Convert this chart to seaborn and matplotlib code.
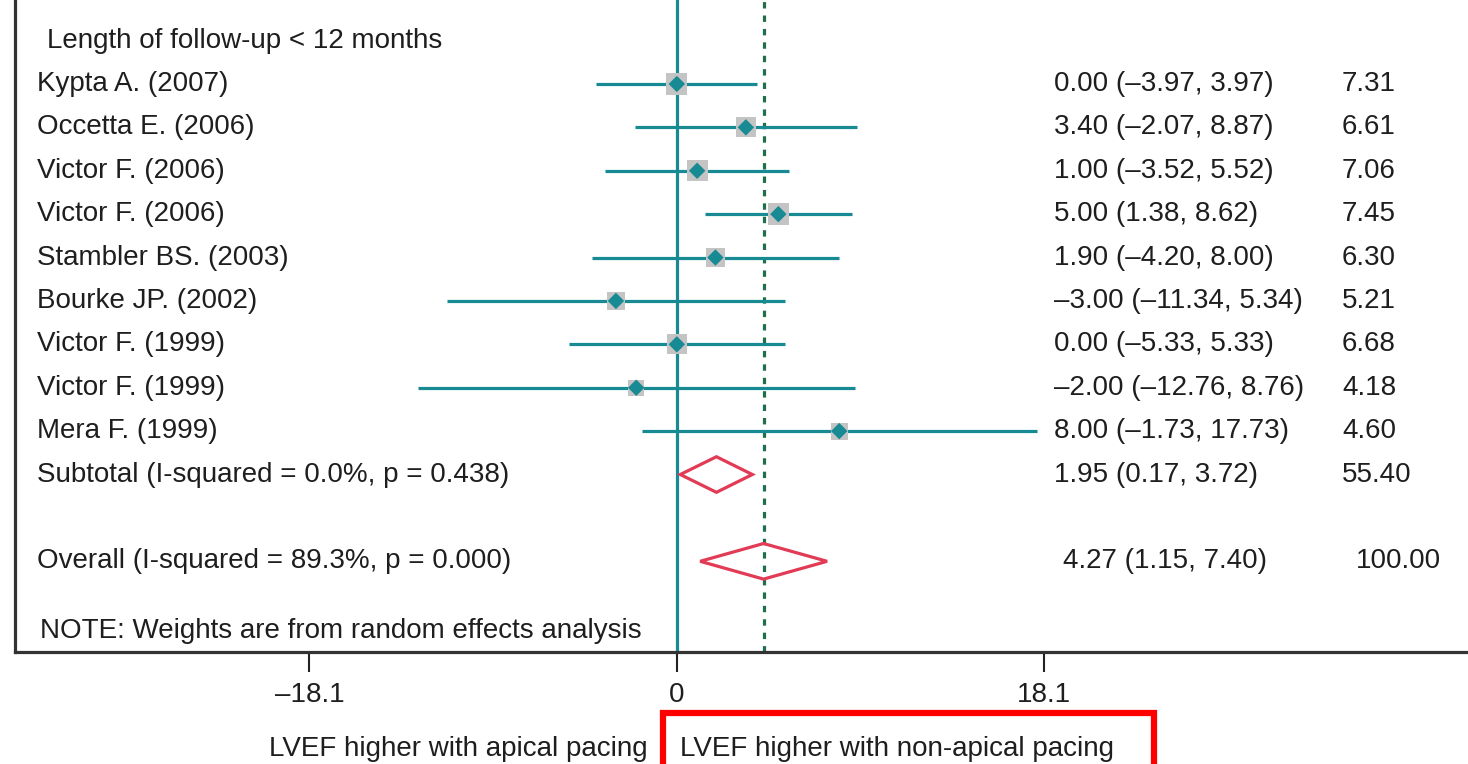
import matplotlib
matplotlib.use("Agg")
import matplotlib.pyplot as plt
import seaborn as sns
import pandas as pd
from matplotlib.patches import Polygon, Rectangle

# study rows
studies = ['Kypta A. (2007)', 'Occetta E. (2006)', 'Victor F. (2006)', 'Victor F. (2006)',
           'Stambler BS. (2003)', 'Bourke JP. (2002)', 'Victor F. (1999)', 'Victor F. (1999)',
           'Mera F. (1999)']
es = [0.00, 3.40, 1.00, 5.00, 1.90, -3.00, 0.00, -2.00, 8.00]
lower = [-3.97, -2.07, -3.52, 1.38, -4.20, -11.34, -5.33, -12.76, -1.73]
upper = [3.97, 8.87, 5.52, 8.62, 8.00, 5.34, 5.33, 8.76, 17.73]
weights = [7.31, 6.61, 7.06, 7.45, 6.30, 5.21, 6.68, 4.18, 4.60]

# pooled estimates
pooled_labels = ['Subtotal (I-squared = 0.0%, p = 0.438)', 'Overall (I-squared = 89.3%, p = 0.000)']
pooled_es = [1.95, 4.27]
pooled_lower = [0.17, 1.15]
pooled_upper = [3.72, 7.40]
pooled_weights = ['55.40', '100.00']

ticks = [-18.1, 0, 18.1]
tick_labels = ['–18.1', '0', '18.1']

teal = '#178a93'
red = '#e23b55'
dotgreen = '#1f6f4a'
ink = '#1e1e1e'

sns.set_style('white')
plt.rcParams['font.family'] = ['Liberation Sans', 'DejaVu Sans']
FS = 20

fig = plt.figure(figsize=(14.68, 7.64), dpi=100)
ax = fig.add_axes([15 / 1468, 112 / 764, 1453 / 1468, 652 / 764])

df = pd.DataFrame({'study': studies, 'es': es, 'lo': lower, 'hi': upper, 'w': weights})
df['row'] = range(1, len(df) + 1)

# CI lines
ax.hlines(df['row'], df['lo'], df['hi'], color=teal, lw=2.3, zorder=2)
# weight boxes
sns.scatterplot(data=df, x='es', y='row', marker='s', s=df['w'] * 32, color='#c4c4c4',
                edgecolor='none', ax=ax, zorder=3, legend=False)
# point estimates
sns.scatterplot(data=df, x='es', y='row', marker='D', s=70, color=teal,
                edgecolor='none', ax=ax, zorder=4, legend=False)

# zero line and overall dotted line
ax.axvline(0, color=teal, lw=2.3, zorder=1)
ax.axvline(pooled_es[1], color=dotgreen, lw=2.3, linestyle=(0, (2.0, 2.2)), zorder=1)

# pooled diamonds
pooled_rows = [10, 12]
for r, m, lo, hi in zip(pooled_rows, pooled_es, pooled_lower, pooled_upper):
    ax.add_patch(Polygon([(lo, r), (m, r - 0.41), (hi, r), (m, r + 0.41)], closed=True,
                         fill=False, edgecolor=red, lw=2.3, zorder=5))

# text columns
ax.text(-31.0, 0, 'Length of follow-up < 12 months', fontsize=FS, va='center', ha='left', color=ink)
for r, name in zip(df['row'], studies):
    ax.text(-31.5, r, name, fontsize=FS, va='center', ha='left', color=ink)
for r, m, lo, hi, w in zip(df['row'], es, lower, upper, weights):
    txt = f'{m:.2f} ({lo:.2f}, {hi:.2f})'.replace('-', '–')
    ax.text(18.57, r, txt, fontsize=FS, va='center', ha='left', color=ink)
    ax.text(32.76, r, f'{w:.2f}', fontsize=FS, va='center', ha='left', color=ink)
x_es = [18.57, 19.0]
x_w = [32.76, 33.45]
for r, lab, m, lo, hi, w, xe, xw in zip(pooled_rows, pooled_labels, pooled_es, pooled_lower,
                                         pooled_upper, pooled_weights, x_es, x_w):
    ax.text(-31.5, r, lab, fontsize=FS, va='center', ha='left', color=ink)
    ax.text(xe, r, f'{m:.2f} ({lo:.2f}, {hi:.2f})', fontsize=FS, va='center', ha='left', color=ink)
    ax.text(xw, r, w, fontsize=FS, va='center', ha='left', color=ink)
ax.text(-31.35, 13.6, 'NOTE: Weights are from random effects analysis', fontsize=FS,
        va='center', ha='left', color=ink)

# axes
ax.set_xlim(-32.6, 38.97)
ax.set_ylim(14.09, -0.935)
ax.set_xticks(ticks)
ax.set_xticklabels(tick_labels, fontsize=FS, color=ink)
ax.set_yticks([])
ax.set_xlabel('')
ax.set_ylabel('')
ax.tick_params(axis='x', direction='out', length=14.5, width=1.5, color='#222222', pad=7,
               bottom=True)
for side in ['top', 'right']:
    ax.spines[side].set_visible(False)
for side in ['left', 'bottom']:
    ax.spines[side].set_color('#333333')
    ax.spines[side].set_linewidth(2.3)

# direction labels
xt = ax.get_xaxis_transform()
ax.text(-1.43, -0.149, 'LVEF higher with apical pacing', fontsize=FS, ha='right', va='center',
        transform=xt, clip_on=False, color=ink)
ax.text(0.15, -0.149, 'LVEF higher with non-apical pacing', fontsize=FS, ha='left', va='center',
        transform=xt, clip_on=False, color=ink)

# red highlight box
fig.patches.append(Rectangle((663 / 1468, -0.05), 491 / 1468, 0.05 + (764 - 713) / 764,
                             transform=fig.transFigure, fill=False, edgecolor='#ff0000',
                             lw=4.5, zorder=10))

fig.savefig('out.png', dpi=100)
